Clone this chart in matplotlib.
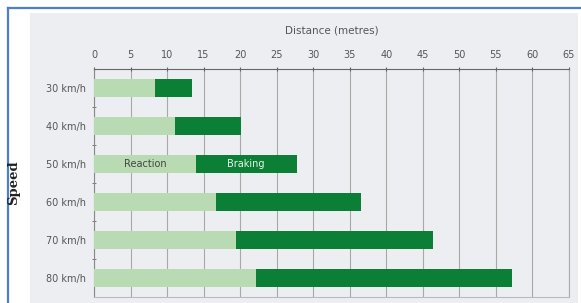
import matplotlib.pyplot as plt
from matplotlib.patches import Rectangle
from matplotlib.lines import Line2D

## data
speeds = ['30 km/h', '40 km/h', '50 km/h', '60 km/h', '70 km/h', '80 km/h']
reaction = [8.3, 11.1, 13.9, 16.7, 19.4, 22.2]
braking = [5.1, 9.0, 13.9, 19.8, 27.0, 35.0]
xticks = list(range(0, 70, 5))

light = '#b9dbb4'
dark = '#0b7f36'
txt = '#555555'

fig = plt.figure(figsize=(5.81, 3.03), dpi=100)
fig.patch.set_facecolor('white')

# grey panel behind the chart, blue frame of the screenshot
fig.patches.append(Rectangle((30/581, 0), 548/581, 1-13/303, transform=fig.transFigure,
                             facecolor='#eceef1', edgecolor='none', zorder=-2))
fig.lines.append(Line2D([8/581, 1], [1-8/303, 1-8/303], transform=fig.transFigure,
                        color='#4f7fc4', lw=1.6))
fig.lines.append(Line2D([8/581, 8/581], [0, 1-8/303], transform=fig.transFigure,
                        color='#4f7fc4', lw=1.6))

ax = fig.add_axes([94/581, 1-297/303, (569-94)/581, (297-69)/303])
ax.set_facecolor('#eceef1')

ypos = list(range(len(speeds)))
ax.barh(ypos, reaction, height=0.46, color=light, zorder=3)
ax.barh(ypos, braking, left=reaction, height=0.46, color=dark, zorder=3)

ax.text(7.0, 2, 'Reaction', ha='center', va='center', fontsize=7, color='#444444', zorder=4)
ax.text(20.8, 2, 'Braking', ha='center', va='center', fontsize=7,
        color='#e8f5e8', zorder=4)

ax.set_xlim(0, 65)
ax.set_ylim(5.5, -0.5)
ax.xaxis.tick_top()
ax.xaxis.set_label_position('top')
ax.set_xticks(xticks)
ax.set_xticklabels([str(v) for v in xticks], fontsize=7, color=txt)
ax.set_xlabel('Distance (metres)', fontsize=7.5, color=txt, labelpad=12)
ax.set_yticks(ypos)
ax.set_yticklabels(speeds, fontsize=7, color=txt)
ax.set_yticks([0.5, 1.5, 2.5, 3.5, 4.5], minor=True)
ax.tick_params(axis='y', which='major', length=0, pad=6)
ax.tick_params(axis='y', which='minor', length=3, color='#666666', direction='inout')
ax.tick_params(axis='x', length=3, color='#666666', direction='inout', pad=5)
ax.grid(axis='x', color='#a8a8a8', lw=0.8, zorder=1)

ax.spines['top'].set_color('#666666')
ax.spines['left'].set_color('#888888')
ax.spines['right'].set_color('#aaaaaa')
ax.spines['bottom'].set_color('#bbbbbb')

fig.text(14/581, 1-183/303, 'Speed', rotation=90, ha='center', va='center',
         fontsize=9.5, fontweight='bold', family='DejaVu Serif', color='#222222')

plt.savefig('out.png', dpi=100)
